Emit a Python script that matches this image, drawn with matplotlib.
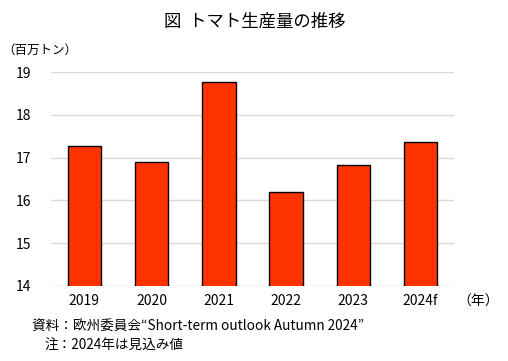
import matplotlib.pyplot as plt

plt.rcParams['font.family'] = ['Noto Sans CJK JP', 'DejaVu Sans']

years = ["2019", "2020", "2021", "2022", "2023", "2024f"]
production = [17.27, 16.90, 18.77, 16.19, 16.83, 17.36]

fig = plt.figure(figsize=(5.08, 3.61), dpi=100)
ax = fig.add_axes([0.100, 0.208, 0.794, 0.592])

ax.bar(range(len(years)), production, width=0.5, color="#FF3300",
       edgecolor="black", linewidth=1.0, zorder=3)

ax.set_xlim(-0.5, len(years) - 0.5)
ax.set_ylim(14, 19)
ax.set_yticks([14, 15, 16, 17, 18, 19])
ax.set_xticks(range(len(years)))
ax.set_xticklabels(years)
ax.grid(axis="y", color="#d9d9d9", linewidth=1, zorder=0)
for s in ["top", "right", "left", "bottom"]:
    ax.spines[s].set_visible(False)
ax.tick_params(axis="both", length=0, labelsize=10)
ax.tick_params(axis="x", pad=6)
ax.tick_params(axis="y", pad=14)

fig.text(0.502, 0.94, "図  トマト生産量の推移", ha="center", va="center", fontsize=12.5)
fig.text(0.005, 0.862, "（百万トン）", ha="left", va="center", fontsize=9)
fig.text(0.900, 0.163, "（年）", ha="left", va="center", fontsize=10)
fig.text(0.063, 0.095, "資料：欧州委員会“Short-term outlook Autumn 2024”",
         ha="left", va="center", fontsize=9.8)
fig.text(0.088, 0.042, "注：2024年は見込み値", ha="left", va="center", fontsize=9.8)

fig.savefig("out.png", dpi=100)
